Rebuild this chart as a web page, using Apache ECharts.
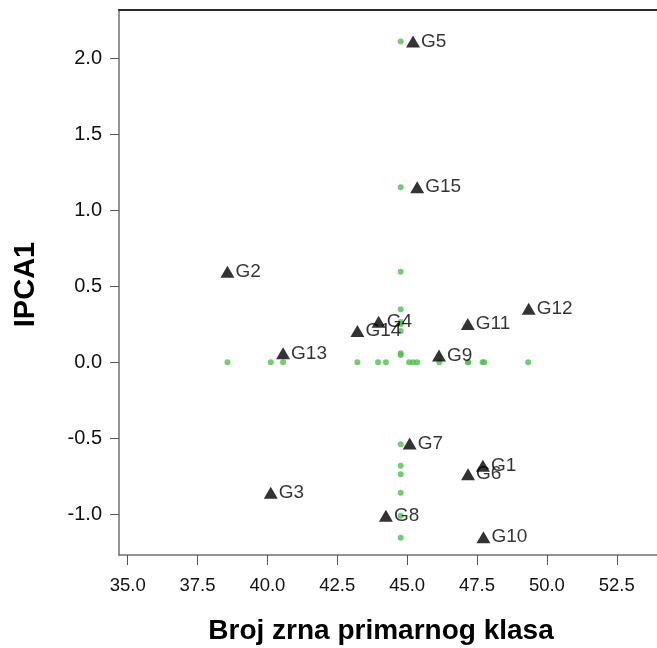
<!DOCTYPE html>
<html>
<head>
<meta charset="utf-8">
<script src="https://cdn.jsdelivr.net/npm/echarts@6/dist/echarts.min.js"></script>
<style>
html,body{margin:0;padding:0;background:#fff;}
#chart{width:657px;height:648px;}
</style>
</head>
<body>
<div id="chart"></div>
<script>
// Genotype points (triangles with labels)
const genotypes = ['G1','G2','G3','G4','G5','G6','G7','G8','G9','G10','G11','G12','G13','G14','G15'];
const genoX = [47.71, 38.57, 40.12, 43.98, 45.21, 47.18, 45.09, 44.24, 46.14, 47.73, 47.17, 49.35, 40.56, 43.22, 45.36];
const genoY = [-0.681, 0.596, -0.860, 0.266, 2.111, -0.737, -0.535, -1.010, 0.045, -1.152, 0.252, 0.352, 0.059, 0.206, 1.152];

// Green projection dots: a row along IPCA1 = 0 and a column at the mean grain number
const rowLevelY = 0.0;
const rowDotsX = [38.57, 40.12, 40.56, 43.22, 43.96, 44.24, 45.07, 45.21, 45.36, 46.15, 47.18, 47.18, 47.70, 47.76, 49.33];
const colLevelX = 44.77;
const colDotsY = [2.111, 1.152, 0.596, 0.349, 0.265, 0.252, 0.206, 0.059, 0.048, -0.540, -0.681, -0.737, -0.860, -1.010, -1.155];

// Axis ticks
const xTicks = [35.0, 37.5, 40.0, 42.5, 45.0, 47.5, 50.0, 52.5];
const yTicks = [-1.0, -0.5, 0.0, 0.5, 1.0, 1.5, 2.0];
const xRange = [34.69, 53.94];
const yRange = [-1.269, 2.319];

const xTitle = 'Broj zrna primarnog klasa';
const yTitle = 'IPCA1';

const FONT = '"Liberation Sans", Arial, sans-serif';

const chart = echarts.init(document.getElementById('chart'), null, {renderer: 'canvas'});

const greenData = rowDotsX.map(x => [x, rowLevelY]).concat(colDotsY.map(y => [colLevelX, y]));
const triData = genotypes.map((g, i) => ({name: g, value: [genoX[i], genoY[i]]}));

chart.setOption({
  backgroundColor: '#ffffff',
  animation: false,
  grid: {left: 119, top: 10, right: 0, bottom: 93, containLabel: false},
  xAxis: [{
    type: 'value', min: xRange[0], max: xRange[1],
    axisLine: {show: true, onZero: false, lineStyle: {color: '#707070', width: 1.5}},
    axisTick: {show: true, length: 10, customValues: xTicks, lineStyle: {color: '#555', width: 1}},
    axisLabel: {show: true, customValues: xTicks, margin: 21, fontSize: 18.5, fontFamily: FONT, color: '#111',
      formatter: v => Number(v).toFixed(1)},
    splitLine: {show: false}
  }, {
    type: 'value', position: 'top', min: xRange[0], max: xRange[1],
    axisLine: {show: true, onZero: false, lineStyle: {color: '#2a2a2a', width: 2}},
    axisTick: {show: false}, axisLabel: {show: false}, splitLine: {show: false}
  }],
  yAxis: {
    type: 'value', min: yRange[0], max: yRange[1],
    axisLine: {show: true, onZero: false, lineStyle: {color: '#707070', width: 1.5}},
    axisTick: {show: true, length: 9, customValues: yTicks, lineStyle: {color: '#555', width: 1}},
    axisLabel: {show: true, customValues: yTicks, margin: 17, fontSize: 20, fontFamily: FONT, color: '#111',
      formatter: v => Number(v).toFixed(1)},
    splitLine: {show: false}
  },
  graphic: [
    {type: 'text', x: 381, y: 631,
      style: {text: xTitle, font: 'bold 28px ' + FONT, fill: '#000', align: 'center', verticalAlign: 'middle'}},
    {type: 'text', x: 26, y: 284.5, rotation: Math.PI / 2,
      style: {text: yTitle, font: 'bold 29px ' + FONT, fill: '#000', align: 'center', verticalAlign: 'middle'}}
  ],
  series: [{
    type: 'scatter', xAxisIndex: 0, yAxisIndex: 0,
    data: greenData, symbol: 'circle', symbolSize: 6,
    itemStyle: {color: '#4fbf4f'}, z: 2
  }, {
    type: 'scatter', xAxisIndex: 0, yAxisIndex: 0,
    data: triData, symbol: 'triangle', symbolSize: [14, 12],
    itemStyle: {color: '#000'}, z: 3,
    label: {show: true, position: 'right', distance: 1, formatter: p => p.name,
      fontSize: 19, fontFamily: FONT, color: '#000'}
  }]
});
</script>
</body>
</html>
